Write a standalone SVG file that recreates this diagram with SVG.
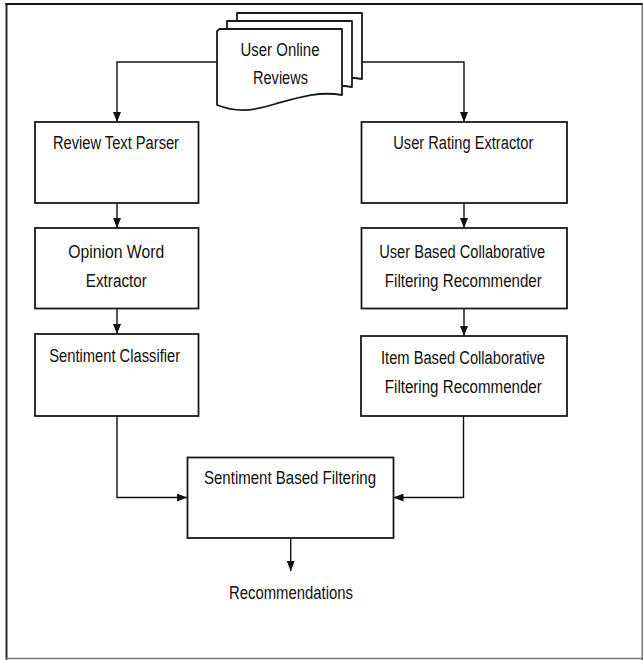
<svg xmlns="http://www.w3.org/2000/svg" width="643" height="660" viewBox="0 0 643 660">
  <defs>
    <marker id="arrow" viewBox="0 0 10 8" refX="10" refY="4" markerWidth="10" markerHeight="8" markerUnits="userSpaceOnUse" orient="auto">
      <path d="M0,0 L10,4 L0,8 Z" fill="#111"/>
    </marker>
  </defs>
  <style>
    .box { fill: #fff; stroke: #1a1a1a; stroke-width: 1.8; }
    .page { fill: #fff; stroke: #1a1a1a; stroke-width: 1.8; stroke-linejoin: round; }
    .conn { fill: none; stroke: #111; stroke-width: 1.4; }
    .lbl { font-family: "Liberation Sans", Arial, sans-serif; font-size: 18px; fill: #111; text-anchor: middle; }
  </style>

  <rect width="643" height="660" fill="#fff"/>

  <!-- page frame -->
  <g id="frame">
    <line x1="6.5" y1="3" x2="6.5" y2="660" stroke="#2a2a2a" stroke-width="2"/>
    <line x1="5.5" y1="4" x2="643" y2="4" stroke="#111" stroke-width="2"/>
    <line x1="6" y1="658.5" x2="643" y2="658.5" stroke="#777" stroke-width="1.5"/>
    <line x1="642.2" y1="3" x2="642.2" y2="660" stroke="#555" stroke-width="1.2"/>
  </g>

  <!-- connectors -->
  <g id="connectors">
    <polyline class="conn" points="217,62 117,62 117,122" marker-end="url(#arrow)"/>
    <polyline class="conn" points="362,62 464,62 464,122" marker-end="url(#arrow)"/>
    <line class="conn" x1="117" y1="203" x2="117" y2="228" marker-end="url(#arrow)"/>
    <line class="conn" x1="117" y1="308" x2="117" y2="334" marker-end="url(#arrow)"/>
    <line class="conn" x1="464" y1="203" x2="464" y2="228" marker-end="url(#arrow)"/>
    <line class="conn" x1="464" y1="308" x2="464" y2="336" marker-end="url(#arrow)"/>
    <polyline class="conn" points="117,416 117,497.5 187,497.5" marker-end="url(#arrow)"/>
    <polyline class="conn" points="463.5,416 463.5,497.5 393.5,497.5" marker-end="url(#arrow)"/>
    <line class="conn" x1="290.7" y1="538" x2="290.7" y2="571" marker-end="url(#arrow)"/>
  </g>

  <!-- multi-document source -->
  <g id="user-online-reviews">
    <path class="page" d="M237,13 L362,13 L362,79 C340,75 320,81 295,88 C270,96 255,96 237,89 Z"/>
    <path class="page" d="M227,21 L352,21 L352,87 C330,83 310,89 285,96 C260,104 245,104 227,97 Z"/>
    <path class="page" d="M217,31 L219.5,29 L342,29 L342,95 C320,91 300,97 275,104 C250,112 235,112 217,105 Z"/>
    <text class="lbl" x="280" y="56" textLength="79" lengthAdjust="spacingAndGlyphs">User Online</text>
    <text class="lbl" x="280.5" y="84" textLength="55" lengthAdjust="spacingAndGlyphs">Reviews</text>
  </g>

  <g id="review-text-parser">
    <rect class="box" x="35" y="122" width="163.5" height="81"/>
    <text class="lbl" x="116" y="149.3" textLength="126" lengthAdjust="spacingAndGlyphs">Review Text Parser</text>
  </g>

  <g id="opinion-word-extractor">
    <rect class="box" x="35" y="228" width="163.5" height="80.5"/>
    <text class="lbl" x="116.2" y="258.3" textLength="96" lengthAdjust="spacingAndGlyphs">Opinion Word</text>
    <text class="lbl" x="116.3" y="286.7" textLength="61" lengthAdjust="spacingAndGlyphs">Extractor</text>
  </g>

  <g id="sentiment-classifier">
    <rect class="box" x="35" y="334" width="163.5" height="82"/>
    <text class="lbl" x="114.7" y="361.7" textLength="131" lengthAdjust="spacingAndGlyphs">Sentiment Classifier</text>
  </g>

  <g id="user-rating-extractor">
    <rect class="box" x="361.5" y="122" width="205.5" height="81"/>
    <text class="lbl" x="463.3" y="149.3" textLength="140" lengthAdjust="spacingAndGlyphs">User Rating Extractor</text>
  </g>

  <g id="user-based-cf">
    <rect class="box" x="361.5" y="228" width="205.5" height="80.5"/>
    <text class="lbl" x="462.2" y="258.3" textLength="166" lengthAdjust="spacingAndGlyphs">User Based Collaborative</text>
    <text class="lbl" x="463.3" y="286.7" textLength="157" lengthAdjust="spacingAndGlyphs">Filtering Recommender</text>
  </g>

  <g id="item-based-cf">
    <rect class="box" x="361" y="336" width="206" height="80"/>
    <text class="lbl" x="463" y="364.3" textLength="164" lengthAdjust="spacingAndGlyphs">Item Based Collaborative</text>
    <text class="lbl" x="463.3" y="392.7" textLength="157" lengthAdjust="spacingAndGlyphs">Filtering Recommender</text>
  </g>

  <g id="sentiment-based-filtering">
    <rect class="box" x="187.5" y="457.5" width="206" height="80.5"/>
    <text class="lbl" x="290" y="484" textLength="172" lengthAdjust="spacingAndGlyphs">Sentiment Based Filtering</text>
  </g>

  <g id="recommendations">
    <text class="lbl" x="291" y="599.3" textLength="124" lengthAdjust="spacingAndGlyphs">Recommendations</text>
  </g>
</svg>
